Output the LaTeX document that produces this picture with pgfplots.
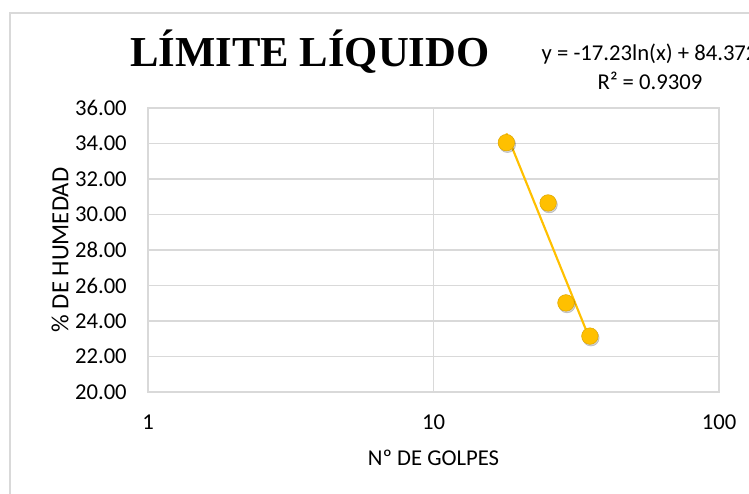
\documentclass[border=0pt]{standalone}
\usepackage{pgfplots}
\pgfplotsset{compat=1.18}
\usepackage{fontspec}
\setmainfont{Carlito}
\newfontfamily\titlefont{Liberation Serif}
\definecolor{gold}{HTML}{FFC000}
\definecolor{gridgray}{HTML}{D9D9D9}
\definecolor{framegray}{HTML}{D9D9D9}

\begin{document}
\begin{tikzpicture}[x=0.75pt,y=0.75pt]
% page: 749 x 493 units, origin bottom-left
\clip (0,0) rectangle (749,493);
\fill[white] (0,0) rectangle (749,493);
% chart area border
\draw[framegray, line width=1.2pt] (10,-20) -- (10,480) -- (800,480);

% title and trendline equation
\node[anchor=base, font=\titlefont\bfseries\fontsize{32}{36}\selectfont] at (310,426) {LÍMITE LÍQUIDO};
\node[anchor=base west, font=\fontsize{17}{20}\selectfont] at (537,432) {y = -17.23ln(x) + 84.372};
\node[anchor=base, font=\fontsize{17}{20}\selectfont] at (650,403) {R² = 0.9309};

\begin{axis}[
  at={(111pt,75.75pt)}, anchor=south west,
  scale only axis, width=428.25pt, height=213pt,
  xmode=log, xmin=1, xmax=100,
  ymin=20, ymax=36,
  xtick={1,10,100}, xticklabels={1,10,100},
  ytick={20,22,...,36},
  minor xtick={},
  grid=major,
  major grid style={gridgray, line width=0.9pt},
  axis line style={gridgray, line width=0.9pt},
  tick style={draw=none},
  /pgf/number format/assume math mode=true,
  yticklabel={\pgfmathprintnumber[fixed,fixed zerofill,precision=2]{\tick}},
  ticklabel style={font=\fontsize{17}{20}\selectfont},
  xticklabel style={anchor=center, yshift=-22.5pt},
  yticklabel style={anchor=east, inner sep=0pt, xshift=-15.75pt},
  xlabel={Nº DE GOLPES},
  ylabel={\% DE HUMEDAD},
  xlabel style={font=\fontsize{17}{20}\selectfont, at={(axis description cs:0.5,-0.2324)}, anchor=center},
  ylabel style={font=\fontsize{18.5}{20}\selectfont, at={(axis description cs:-0.1541,0.5)}, anchor=center},
  clip=false,
]
% logarithmic trend line over the range of the data
\addplot[gold, line width=1.6pt] coordinates {(18,34.57) (35,23.11)};
% soft shadow under the markers
\addplot[only marks, mark=*, mark size=6.2pt,
  mark options={fill=black, draw=none, opacity=0.18, xshift=0.8pt, yshift=-1.3pt}]
  coordinates {(18,34.05) (25.2,30.65) (29.1,25.02) (35.3,23.15)};
% test points
\addplot[only marks, mark=*, mark size=6.2pt,
  mark options={fill=gold, draw=gold!88!black, line width=0.4pt}]
  coordinates {(18,34.05) (25.2,30.65) (29.1,25.02) (35.3,23.15)};
\end{axis}
\end{tikzpicture}
\end{document}
